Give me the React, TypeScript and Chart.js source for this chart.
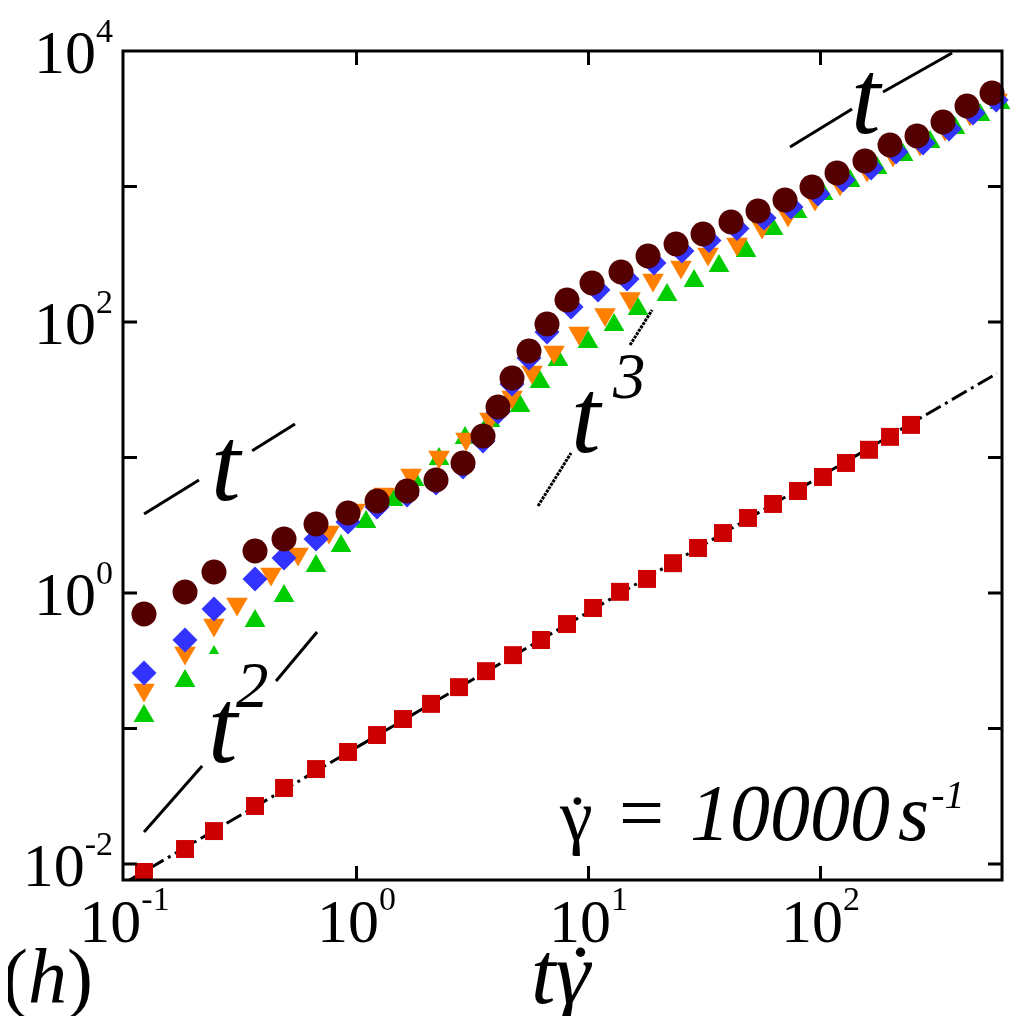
import React, { useEffect, useRef } from "react";
import { Chart, registerables } from "chart.js";

Chart.register(...registerables);

// Dimensionless time and the measured quantity for each run.
const brownT = [0.1213, 0.1823, 0.243, 0.3652, 0.487, 0.669, 0.9191, 1.226, 1.651, 2.201, 2.878, 3.51, 4.073, 4.681, 5.54, 6.623, 8.078, 10.35, 13.81, 18.05, 23.84, 31.16, 41.14, 53.78, 70.31, 91.9, 117.8, 155.5, 199.4, 260.6, 337.3, 428.0, 548.7];
const brownY = [0.7, 1.017, 1.429, 2.042, 2.503, 3.23, 3.894, 4.775, 5.663, 6.824, 9.1, 14.41, 23.6, 38.6, 61.1, 96.7, 145.3, 194.0, 233.9, 306.9, 376.4, 446.0, 547.0, 659.6, 795.5, 991, 1259, 1543, 2024, 2361, 2993, 3927, 4898];

const blueT = [0.1213, 0.1823, 0.243, 0.3652, 0.487, 0.669, 0.9191, 1.226, 1.651, 2.201, 2.878, 3.51, 4.073, 4.681, 5.54, 6.623, 8.41, 10.99, 14.65, 19.16, 25.28, 33.06, 43.66, 57.1, 74.6, 97.5, 125.0, 165.2, 211.5, 276.5, 358.1, 454.2, 571.5];
const blueY = [0.257, 0.45, 0.762, 1.268, 1.812, 2.503, 3.342, 4.313, 5.287, 6.486, 8.51, 13.24, 21.67, 34.87, 54.2, 84.4, 129.0, 172.2, 207.6, 272.5, 334.3, 400.0, 490.0, 585.6, 706.3, 880.5, 1117, 1369, 1797, 2094, 2657, 3486, 4350];

const orangeT = [0.1213, 0.1823, 0.243, 0.3054, 0.428, 0.5596, 0.7612, 0.985, 1.314, 1.718, 2.268, 2.965, 3.762, 4.681, 5.706, 7.101, 9.102, 11.78, 15.1, 18.97, 25.04, 32.74, 43.66, 55.96, 72.43, 94.7, 121.4, 158.6, 205.4, 268.5, 344.0, 441.0, 576.6];
const orangeY = [0.192, 0.361, 0.581, 0.829, 1.381, 1.94, 2.818, 4.098, 5.378, 7.427, 10.09, 13.69, 19.23, 27.96, 42.76, 60.06, 82.9, 113.6, 149.1, 204.2, 254.6, 317.6, 376.4, 502.4, 616.3, 808.6, 1043, 1324, 1708, 2059, 2657, 3428, 4350];

const greenT = [0.1213, 0.1823, 0.243, 0.3652, 0.487, 0.669, 0.8574, 1.099, 1.437, 1.769, 2.268, 2.936, 3.762, 5.067, 6.179, 7.389, 9.95, 12.88, 16.35, 21.8, 28.5, 36.52, 47.75, 62.42, 79.18, 102.5, 134.1, 175.2, 226.8, 296.5, 379.8, 487.0, 593.8];
const greenY = [0.1237, 0.2242, 0.373, 0.621, 0.95, 1.582, 2.223, 3.342, 4.858, 6.824, 9.75, 13.93, 18.58, 23.99, 36.07, 52.43, 71.2, 95.0, 124.7, 158.2, 200.7, 259.0, 334.3, 485.8, 648.3, 880.5, 1098, 1369, 1708, 2130, 2702, 3371, 4130];

const redT = [0.1213, 0.1823, 0.243, 0.3652, 0.487, 0.669, 0.9191, 1.226, 1.586, 2.095, 2.766, 3.615, 4.727, 6.243, 8.078, 10.46, 13.67, 17.87, 23.13, 29.65, 37.99, 48.7, 62.42, 79.98, 102.5, 128.8, 161.8, 199.4, 245.5];
const redY = [0.00873, 0.0129, 0.0175, 0.0268, 0.0364, 0.0502, 0.0671, 0.0895, 0.1175, 0.152, 0.202, 0.265, 0.348, 0.45, 0.59, 0.775, 1.02, 1.27, 1.66, 2.15, 2.77, 3.58, 4.54, 5.66, 7.18, 9.11, 11.4, 14.2, 17.4];

// Linear fit through the red run.
const fitT = [0.0985, 576.6];
const fitY = [0.00714, 41.8];

// Power-law guides, each split in two pieces around its label.
const guideT1LowT = [0.1214, 0.2095, 0.355, 0.543];
const guideT1LowY = [3.83, 6.82, 11.2, 17.7];
const guideT2T = [0.1214, 0.216, 0.45, 0.676];
const guideT2Y = [0.0172, 0.0528, 0.224, 0.515];
const guideT3T = [6.06, 8.41, 15.1, 18.8];
const guideT3Y = [4.39, 10.8, 67.6, 122.7];
const guideT1HighT = [73.9, 136.8, 186, 369];
const guideT1HighY = [1958, 3733, 4978, 9667];

// Axis ticks and labels (decades).
const xRange = [0.0985, 605.8];
const yRange = [0.00762, 10000];
const xTickValues = [0.1, 1, 10, 100];
const xLabelExps = ["-1", "0", "1", "2"];
const yTickValues = [1e-2, 1e-1, 1, 10, 100, 1e3, 1e4];
const yLabelValues = [1e-2, 1, 100, 1e4];
const yLabelExps = ["-2", "0", "2", "4"];

const greenRadii = greenT.map((_, i) => (i === 2 ? 6 : 12));

const SERIF = '"Liberation Serif"';

const pts = (xs: number[], ys: number[]) => xs.map((x, i) => ({ x, y: ys[i] }));
const piece = (xs: number[], ys: number[], i: number) => [
  { x: xs[i], y: ys[i] },
  { x: xs[i + 1], y: ys[i + 1] },
];

// Gamma with an overdot: the letter followed by a centred dot accent.
function gammaDot(ctx: CanvasRenderingContext2D, x: number, baseline: number, dotLift: number, dotShift: number) {
  ctx.textAlign = "left";
  ctx.fillText("\u03B3", x, baseline);
  const w = ctx.measureText("\u03B3").width;
  ctx.textAlign = "center";
  ctx.fillText("\u02D9", x + w / 2 + dotShift, baseline + dotLift);
  ctx.textAlign = "left";
  return w;
}

const frameAndText = {
  id: "frameAndText",
  afterDraw(chart: any) {
    const { ctx, chartArea, scales } = chart;
    const { left, right, top, bottom } = chartArea;
    ctx.save();
    ctx.strokeStyle = "#000";
    ctx.fillStyle = "#000";
    ctx.lineWidth = 3;
    ctx.strokeRect(left, top, right - left, bottom - top);

    const tick = 14;
    ctx.beginPath();
    yTickValues.forEach((v) => {
      const py = scales.y.getPixelForValue(v);
      if (py <= top + 3 || py >= bottom - 3) return;
      ctx.moveTo(left, py);
      ctx.lineTo(left + tick, py);
      ctx.moveTo(right, py);
      ctx.lineTo(right - tick, py);
    });
    xTickValues.forEach((v) => {
      const px = scales.x.getPixelForValue(v);
      if (px <= left + 3 || px >= right - 3) return;
      ctx.moveTo(px, bottom);
      ctx.lineTo(px, bottom - tick);
      ctx.moveTo(px, top);
      ctx.lineTo(px, top + tick);
    });
    ctx.stroke();

    ctx.textBaseline = "alphabetic";
    ctx.textAlign = "left";
    const baseFont = `62px ${SERIF}`;
    const expFont = `34px ${SERIF}`;

    // y tick labels
    yLabelValues.forEach((v, i) => {
      const py = scales.y.getPixelForValue(v);
      const exp = yLabelExps[i];
      ctx.font = expFont;
      const ew = ctx.measureText(exp).width;
      const xr = 113;
      ctx.fillText(exp, xr - ew, py - 9);
      ctx.font = baseFont;
      const bw = ctx.measureText("10").width;
      ctx.fillText("10", xr - ew - bw, py + 22);
    });

    // x tick labels
    xTickValues.forEach((v, i) => {
      const px = scales.x.getPixelForValue(v);
      const exp = xLabelExps[i];
      ctx.font = expFont;
      const ew = ctx.measureText(exp).width;
      ctx.font = baseFont;
      const bw = ctx.measureText("10").width;
      const x0 = px - (bw + ew) / 2;
      ctx.fillText("10", x0, bottom + 62);
      ctx.font = expFont;
      ctx.fillText(exp, x0 + bw, bottom + 30);
    });

    // guide labels
    ctx.font = `italic 106px ${SERIF}`;
    ctx.fillText("t", 211, 500);
    ctx.fillText("t", 208, 762);
    ctx.fillText("t", 571, 452);
    ctx.fillText("t", 851, 133);
    ctx.font = `italic 65px ${SERIF}`;
    ctx.fillText("2", 236, 707);
    ctx.fillText("3", 613, 398);

    // shear-rate annotation
    ctx.font = `74px ${SERIF}`;
    gammaDot(ctx, 560, 840, 6, 1);
    ctx.font = `80px ${SERIF}`;
    ctx.fillText("=", 619, 840);
    ctx.font = `italic 80px ${SERIF}`;
    ctx.fillText("10000", 690, 840);
    const w10000 = ctx.measureText("10000").width;
    ctx.fillText("s", 690 + w10000 + 8, 840);
    const ws = ctx.measureText("s").width;
    ctx.font = `italic 40px ${SERIF}`;
    ctx.fillText("-1", 690 + w10000 + 8 + ws + 2, 808);

    // axis title
    ctx.font = `italic 88px ${SERIF}`;
    ctx.fillText("t", 531, 1003);
    const wt = ctx.measureText("t").width;
    gammaDot(ctx, 531 + wt, 1003, 4, 2);

    // panel tag
    ctx.font = `78px ${SERIF}`;
    ctx.fillText("(", 2, 1003);
    const wp = ctx.measureText("(").width;
    ctx.font = `italic 78px ${SERIF}`;
    ctx.fillText("h", 2 + wp, 1003);
    const wh = ctx.measureText("h").width;
    ctx.font = `78px ${SERIF}`;
    ctx.fillText(")", 2 + wp + wh, 1003);

    ctx.restore();
  },
};

// Touch the serif faces on a scratch canvas so they are resolved before the chart draws.
function primeFonts() {
  const scratch = document.createElement("canvas");
  scratch.width = 64;
  scratch.height = 64;
  const g = scratch.getContext("2d");
  if (!g) return;
  g.font = `40px ${SERIF}`;
  g.fillText("10", 0, 40);
  g.font = `italic 40px ${SERIF}`;
  g.fillText("t", 0, 40);
}

export default function App() {
  const canvasRef = useRef<HTMLCanvasElement | null>(null);

  useEffect(() => {
    const canvas = canvasRef.current;
    if (!canvas) return;
    primeFonts();

    const guide = (data: any[], dash: number[] = []) => ({
      data,
      showLine: true,
      borderColor: "#000",
      borderWidth: 3,
      borderDash: dash,
      pointRadius: 0,
      order: 5,
    });

    const chart = new Chart(canvas, {
      type: "scatter",
      data: {
        datasets: [
          { data: pts(brownT, brownY), pointStyle: "circle", pointRadius: 12.5, backgroundColor: "#550000", borderWidth: 0, order: 0, clip: false },
          { data: pts(blueT, blueY), pointStyle: "rectRot", pointRadius: 12.5, backgroundColor: "#3333ff", borderWidth: 0, order: 1, clip: false },
          { data: pts(orangeT, orangeY), pointStyle: "triangle", pointRotation: 180, pointRadius: 12.5, backgroundColor: "#ff8000", borderWidth: 0, order: 2, clip: false },
          { data: pts(greenT, greenY), pointStyle: "triangle", pointRadius: greenRadii, backgroundColor: "#00cc00", borderWidth: 0, order: 3, clip: false },
          { data: pts(redT, redY), pointStyle: "rect", pointRadius: 12.7, backgroundColor: "#cc0000", borderWidth: 0, order: 4, clip: false },
          guide(pts(fitT, fitY), [17, 5, 3, 5]),
          guide(piece(guideT1LowT, guideT1LowY, 0)),
          guide(piece(guideT1LowT, guideT1LowY, 2)),
          guide(piece(guideT2T, guideT2Y, 0)),
          guide(piece(guideT2T, guideT2Y, 2)),
          guide(piece(guideT3T, guideT3Y, 0), [3, 1]),
          guide(piece(guideT3T, guideT3Y, 2), [3, 1]),
          guide(piece(guideT1HighT, guideT1HighY, 0)),
          guide(piece(guideT1HighT, guideT1HighY, 2)),
        ] as any,
      },
      options: {
        responsive: false,
        animation: false,
        events: [],
        layout: { padding: { left: 123, top: 51, right: 22, bottom: 144 } },
        plugins: { legend: { display: false }, tooltip: { enabled: false } },
        scales: {
          x: { type: "logarithmic", min: xRange[0], max: xRange[1], display: false },
          y: { type: "logarithmic", min: yRange[0], max: yRange[1], display: false },
        },
      },
      plugins: [frameAndText],
    });

    let alive = true;
    const redraw = () => {
      if (alive) chart.draw();
    };
    const timer = window.setTimeout(redraw, 100);

    return () => {
      alive = false;
      window.clearTimeout(timer);
      chart.destroy();
    };
  }, []);

  // Negative margin cancels the body margin so the canvas fills the window.
  return (
    <div style={{ margin: -8, width: 1024, height: 1024 }}>
      <canvas ref={canvasRef} width={1024} height={1024} />
    </div>
  );
}
